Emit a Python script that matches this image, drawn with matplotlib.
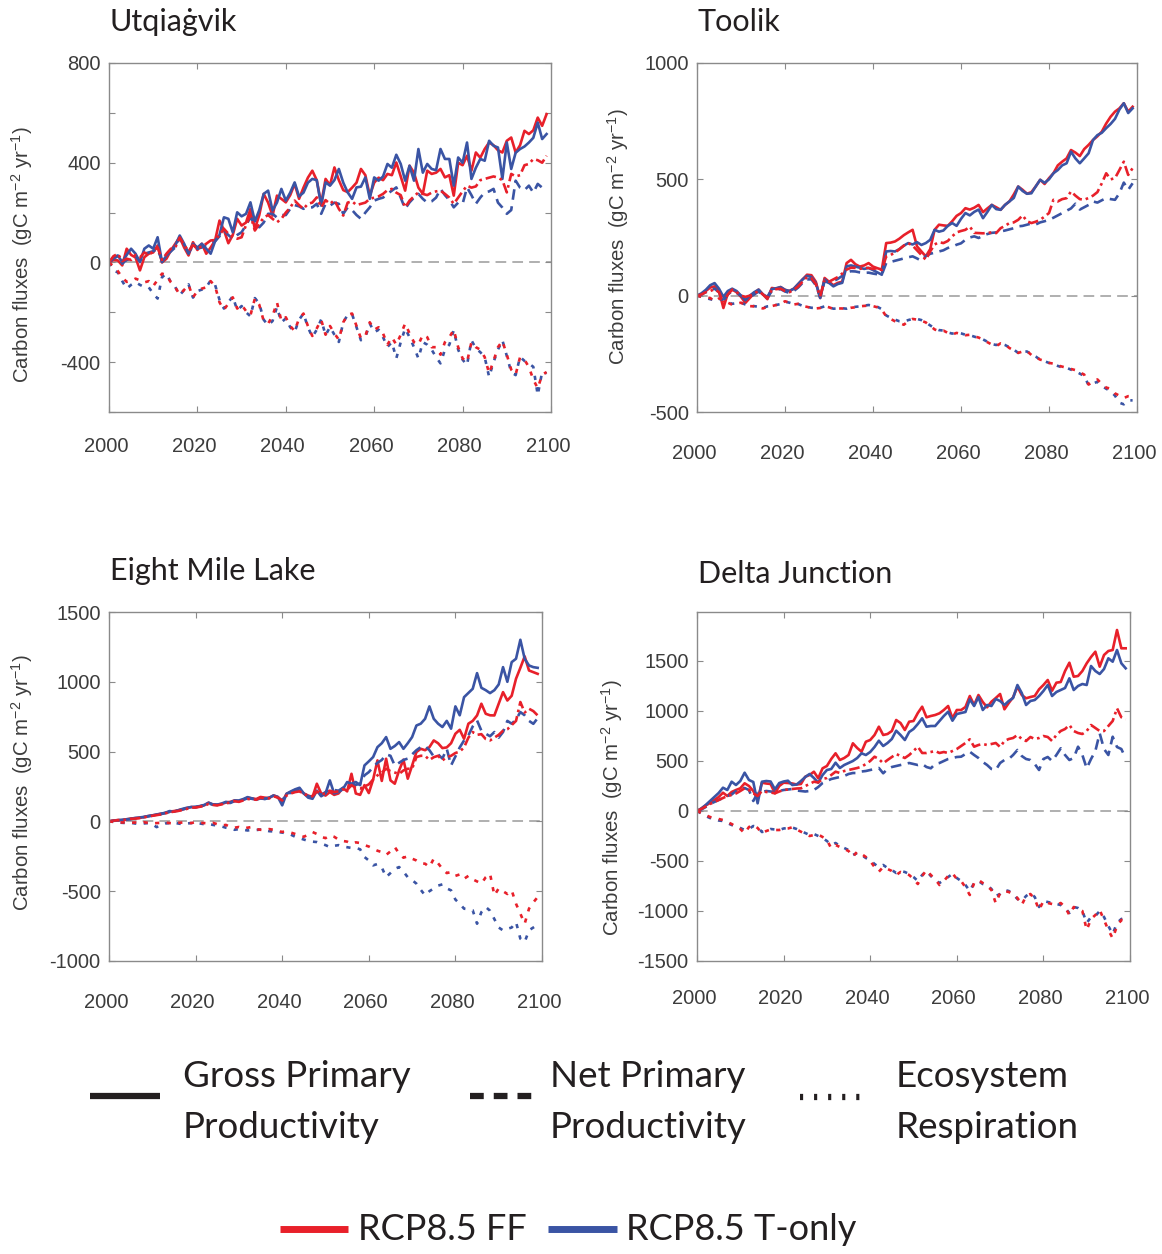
import numpy as np
import matplotlib
matplotlib.use("Agg")
import matplotlib.pyplot as plt
import matplotlib.transforms as mtransforms

plt.rcParams['font.family'] = ['Liberation Sans', 'DejaVu Sans']
plt.rcParams['mathtext.fontset'] = 'custom'
plt.rcParams['mathtext.rm'] = 'Liberation Sans'

years = np.arange(2000, 2100)

# ---- Utqiagvik ----
utq_gpp_ff = [0, 10, 8, -12, 55, 30, 20, -32, 21, 35,
              40, 68, 0, 15, 48, 75, 101, 60, 28, 81,
              50, 75, 35, 60, 88, 168, 130, 77, 110, 175,
              148, 160, 215, 135, 190, 275, 240, 188, 268, 255,
              241, 270, 315, 255, 300, 340, 368, 330, 235, 335,
              310, 381, 330, 290, 282, 300, 320, 375, 350, 268,
              320, 340, 330, 355, 350, 401, 345, 288, 388, 360,
              300, 275, 368, 355, 360, 375, 341, 350, 268, 400,
              390, 428, 368, 441, 420, 455, 481, 470, 450, 441,
              488, 501, 441, 470, 528, 515, 530, 581, 548, 595]
utq_gpp_t = [0, 21, 28, 1, 30, 55, 35, 1, 55, 68,
             55, 101, 1, 28, 45, 68, 108, 75, 35, 75,
             60, 75, 55, 35, 85, 110, 181, 175, 121, 201,
             185, 195, 241, 165, 210, 275, 288, 208, 240, 295,
             248, 280, 321, 265, 280, 320, 335, 330, 228, 321,
             308, 330, 375, 320, 281, 255, 301, 304, 341, 255,
             341, 328, 345, 395, 380, 432, 395, 328, 388, 328,
             455, 360, 395, 375, 370, 455, 415, 415, 308, 421,
             400, 481, 335, 380, 415, 408, 488, 468, 461, 335,
             481, 375, 440, 455, 465, 481, 500, 561, 495, 515]
utq_npp_ff = [0, 25, 35, 5, 15, 10, 30, 20, 40, 30,
              45, 61, 10, 35, 55, 60, 100, 70, 45, 70,
              55, 65, 75, 88, 90, 110, 135, 115, 100, 95,
              101, 150, 190, 128, 155, 180, 190, 175, 161, 175,
              200, 220, 248, 230, 215, 235, 240, 261, 221, 250,
              235, 250, 215, 188, 240, 245, 230, 235, 240, 255,
              260, 265, 275, 290, 295, 280, 270, 221, 248, 265,
              281, 275, 270, 280, 285, 288, 275, 260, 235, 260,
              285, 308, 300, 305, 330, 335, 340, 345, 340, 330,
              281, 355, 345, 350, 390, 395, 415, 410, 400, 428]
utq_npp_t = [0, 15, 25, -5, 10, 15, 25, 5, 35, 40,
             45, 55, 5, 30, 45, 60, 100, 65, 40, 65,
             55, 60, 70, 75, 85, 105, 128, 110, 95, 110,
             121, 150, 180, 155, 141, 160, 195, 195, 180, 190,
             190, 215, 230, 225, 215, 220, 221, 235, 195, 235,
             228, 240, 235, 195, 221, 210, 190, 175, 200, 221,
             248, 255, 260, 275, 288, 301, 260, 215, 241, 260,
             275, 255, 240, 245, 260, 295, 270, 250, 221, 240,
             235, 301, 270, 235, 260, 281, 285, 295, 240, 220,
             195, 210, 328, 300, 290, 308, 280, 315, 300, 295]
utq_er_ff = [0, -15, -35, -60, -78, -75, -65, -72, -80, -75,
             -95, -70, -45, -50, -80, -100, -130, -110, -90, -140,
             -115, -105, -100, -75, -95, -160, -190, -165, -140, -185,
             -170, -195, -212, -145, -170, -235, -245, -215, -160, -235,
             -220, -255, -275, -225, -205, -255, -295, -265, -230, -290,
             -255, -285, -310, -240, -210, -205, -255, -305, -295, -240,
             -270, -260, -285, -330, -300, -330, -290, -245, -285, -320,
             -330, -290, -300, -340, -340, -370, -320, -300, -270, -340,
             -385, -400, -320, -340, -350, -380, -445, -395, -340, -315,
             -370, -430, -450, -380, -390, -420, -470, -505, -450, -440]
utq_er_t = [0, -32, -40, -75, -105, -90, -79, -90, -99, -100,
            -125, -145, -59, -45, -80, -99, -132, -110, -88, -141,
            -115, -109, -100, -72, -90, -150, -185, -160, -136, -192,
            -175, -200, -216, -143, -165, -230, -252, -235, -179, -240,
            -225, -260, -279, -230, -205, -260, -299, -270, -229, -292,
            -259, -290, -319, -240, -210, -208, -260, -312, -300, -245,
            -280, -270, -300, -339, -320, -385, -320, -265, -300, -340,
            -385, -320, -330, -350, -380, -405, -350, -330, -272, -350,
            -390, -412, -312, -345, -360, -380, -459, -400, -350, -312,
            -375, -440, -452, -379, -395, -405, -419, -532, -439, -445]

# ---- Toolik ----
tlk_gpp_ff = [0, 5, 20, 35, 40, 20, -53, 10, 26, 15,
              -5, -31, -10, 10, 26, 5, -15, 33, 30, 37,
              25, 20, 30, 50, 70, 90, 88, 60, -10, 76,
              60, 45, 55, 60, 140, 154, 135, 125, 130, 140,
              125, 118, 112, 226, 228, 233, 245, 260, 272, 283,
              212, 190, 169, 200, 283, 305, 302, 300, 320, 343,
              355, 376, 370, 378, 390, 359, 375, 390, 380, 369,
              390, 405, 435, 469, 455, 438, 445, 470, 498, 480,
              505, 526, 560, 576, 590, 626, 615, 600, 630, 648,
              669, 685, 705, 740, 769, 791, 805, 827, 791, 812]
tlk_gpp_t = [0, 10, 25, 45, 54, 30, -5, 20, 30, 20,
             0, -20, 0, 15, 26, 5, -5, 28, 32, 37,
             25, 20, 30, 50, 70, 85, 80, 55, -10, 70,
             55, 40, 50, 55, 126, 130, 125, 120, 115, 119,
             110, 100, 90, 190, 192, 190, 200, 215, 226, 220,
             230, 218, 226, 240, 283, 275, 280, 300, 312, 300,
             330, 355, 345, 360, 370, 333, 360, 390, 372, 369,
             390, 405, 420, 469, 450, 438, 440, 470, 498, 485,
             500, 526, 540, 560, 569, 619, 590, 569, 590, 612,
             669, 690, 700, 720, 738, 760, 800, 827, 785, 805]
tlk_npp_ff = [0, 5, 15, 20, 28, 15, -31, 5, 26, 15,
              0, -5, 0, 10, 20, 5, -10, 25, 28, 30,
              20, 15, 25, 40, 60, 80, 75, 50, -3, 68,
              60, 70, 80, 95, 112, 120, 119, 115, 120, 119,
              115, 118, 110, 169, 175, 185, 200, 215, 226, 215,
              195, 175, 154, 190, 220, 230, 226, 235, 255, 272,
              278, 283, 297, 270, 269, 268, 270, 272, 269, 290,
              300, 312, 315, 326, 345, 320, 312, 318, 326, 340,
              355, 412, 405, 415, 419, 448, 430, 415, 412, 420,
              430, 445, 483, 526, 500, 505, 540, 576, 519, 548]
tlk_npp_t = [0, 5, 15, 25, 30, 15, -20, 5, 20, 12,
             0, -10, -5, 5, 18, 0, -10, 20, 25, 28,
             18, 12, 20, 35, 55, 70, 70, 45, -5, 62,
             55, 62, 72, 85, 100, 105, 104, 100, 98, 99,
             95, 92, 90, 140, 145, 150, 155, 160, 165, 169,
             160, 150, 170, 180, 185, 190, 195, 205, 210, 219,
             225, 240, 250, 255, 248, 258, 265, 270, 272, 276,
             280, 285, 290, 298, 300, 305, 310, 306, 315, 320,
             326, 335, 345, 355, 365, 375, 395, 370, 380, 390,
             405, 400, 410, 419, 415, 412, 440, 486, 455, 483]
tlk_er_ff = [0, -5, -8, -10, -25, -12, -17, -30, -39, -35,
             -30, -40, -45, -46, -50, -55, -48, -45, -40, -35,
             -24, -30, -38, -35, -45, -48, -53, -55, -53, -45,
             -50, -57, -55, -55, -57, -52, -50, -46, -44, -43,
             -45, -50, -60, -89, -100, -110, -117, -125, -110, -100,
             -103, -108, -115, -130, -145, -153, -150, -160, -167, -160,
             -165, -170, -168, -175, -180, -189, -200, -210, -217, -205,
             -210, -225, -235, -246, -240, -238, -255, -265, -275, -280,
             -289, -292, -300, -305, -310, -315, -320, -330, -339, -382,
             -370, -360, -380, -395, -400, -420, -430, -440, -432, -432]
tlk_er_t = [0, -5, -10, -15, -20, -15, -17, -28, -35, -32,
            -30, -38, -42, -45, -48, -52, -46, -44, -40, -36,
            -26, -30, -36, -36, -44, -48, -52, -53, -52, -46,
            -50, -56, -55, -54, -56, -50, -48, -46, -43, -40,
            -44, -48, -58, -85, -95, -103, -110, -112, -105, -100,
            -100, -105, -115, -128, -140, -148, -150, -158, -163, -158,
            -162, -168, -170, -176, -182, -188, -198, -208, -212, -205,
            -212, -222, -232, -246, -240, -240, -252, -262, -275, -282,
            -289, -295, -302, -308, -310, -318, -325, -335, -345, -385,
            -378, -370, -388, -400, -410, -430, -460, -467, -450, -450]

# ---- Eight Mile Lake ----
eml_gpp_ff = [0, 5, 10, 8, 15, 20, 22, 25, 30, 38,
              43, 48, 55, 60, 70, 74, 80, 85, 95, 103,
              100, 108, 115, 134, 120, 118, 125, 135, 140, 150,
              145, 155, 170, 165, 160, 175, 170, 168, 186, 175,
              140, 198, 210, 225, 220, 200, 185, 175, 270, 200,
              185, 210, 190, 200, 240, 215, 341, 200, 190, 260,
              203, 300, 437, 290, 449, 294, 270, 365, 442, 306,
              400, 497, 520, 510, 532, 580, 560, 525, 530, 560,
              628, 656, 592, 700, 720, 759, 843, 771, 760, 759,
              843, 926, 866, 900, 1022, 1100, 1182, 1081, 1069, 1057]
eml_gpp_t = [0, 5, 8, 12, 15, 18, 25, 28, 32, 38,
             43, 50, 55, 62, 74, 70, 80, 90, 98, 103,
             105, 110, 118, 134, 122, 120, 128, 140, 135, 150,
             150, 160, 174, 165, 155, 165, 160, 170, 186, 175,
             115, 198, 215, 230, 241, 200, 170, 162, 220, 180,
             200, 294, 200, 210, 230, 282, 270, 282, 260, 401,
             430, 461, 532, 560, 604, 520, 540, 568, 520, 560,
             604, 687, 700, 735, 824, 735, 700, 676, 720, 664,
             824, 760, 890, 920, 950, 1062, 957, 940, 919, 940,
             981, 1105, 1000, 1141, 1165, 1301, 1165, 1117, 1105, 1100]
eml_npp_ff = [0, 5, 8, 10, 12, 18, 20, 24, 28, 35,
              40, 45, 50, 58, 65, 70, 75, 82, 90, 98,
              100, 105, 112, 125, 118, 115, 122, 130, 135, 145,
              140, 150, 160, 160, 155, 170, 165, 165, 180, 170,
              150, 185, 200, 210, 215, 195, 185, 180, 215, 195,
              200, 220, 210, 215, 230, 225, 260, 240, 235, 250,
              265, 300, 330, 350, 377, 360, 350, 340, 365, 377,
              377, 461, 470, 470, 440, 460, 470, 437, 460, 470,
              490, 500, 530, 600, 640, 620, 625, 590, 580, 600,
              620, 650, 660, 690, 720, 855, 780, 807, 790, 759]
eml_npp_t = [0, 4, 8, 10, 14, 16, 22, 25, 30, 36,
             41, 47, 52, 60, 68, 70, 78, 86, 94, 100,
             102, 108, 115, 128, 120, 118, 125, 135, 132, 145,
             146, 155, 165, 162, 155, 165, 162, 168, 180, 172,
             150, 195, 205, 215, 225, 200, 180, 175, 200, 190,
             210, 230, 225, 220, 240, 250, 255, 262, 270, 330,
             353, 389, 420, 440, 480, 470, 400, 420, 440, 450,
             480, 510, 532, 540, 510, 465, 480, 450, 520, 401,
             465, 530, 580, 616, 680, 723, 650, 628, 610, 640,
             600, 640, 720, 700, 730, 783, 760, 720, 699, 740]
eml_er_ff = [0, -3, -5, -8, -5, -10, -8, -12, -6, -10,
             -15, -12, -10, -8, -12, -15, -10, -8, -10, -12,
             -5, -10, -12, -15, -10, -20, -30, -25, -40, -45,
             -40, -50, -45, -40, -55, -60, -64, -55, -60, -70,
             -75, -72, -80, -90, -100, -110, -95, -76, -90, -110,
             -120, -100, -110, -130, -140, -145, -160, -150, -155, -170,
             -180, -196, -210, -220, -240, -215, -184, -230, -260, -250,
             -267, -280, -300, -303, -327, -267, -300, -340, -370, -363,
             -390, -380, -411, -390, -415, -430, -446, -400, -375, -530,
             -480, -500, -520, -494, -590, -661, -733, -625, -580, -542]
eml_er_t = [0, -3, -8, -10, -12, -10, -15, -18, -15, -12,
            -20, -41, -25, -15, -12, -10, -15, -20, -15, -12,
            -10, -15, -20, -18, -25, -30, -36, -45, -50, -60,
            -55, -60, -65, -60, -62, -58, -64, -70, -72, -76,
            -80, -85, -95, -110, -120, -130, -140, -145, -148, -160,
            -170, -184, -175, -170, -180, -185, -190, -189, -200, -255,
            -280, -315, -305, -330, -399, -370, -340, -327, -360, -400,
            -420, -446, -490, -530, -500, -480, -460, -451, -480, -494,
            -560, -590, -625, -630, -637, -733, -650, -613, -640, -700,
            -760, -781, -770, -760, -721, -840, -864, -780, -760, -740]

# ---- Delta Junction ----
dj_gpp_ff = [0, 25, 55, 80, 110, 140, 183, 150, 190, 210,
             227, 277, 250, 200, 117, 283, 275, 270, 177, 250,
             283, 280, 275, 265, 270, 343, 360, 393, 327, 427,
             450, 520, 577, 510, 530, 560, 677, 630, 593, 693,
             710, 760, 843, 760, 770, 800, 910, 880, 810, 893,
             900, 980, 1043, 937, 950, 960, 977, 1010, 1050, 927,
             1010, 1010, 1040, 1150, 1060, 1160, 1090, 1037, 1093, 1130,
             1170, 1017, 1080, 1137, 1243, 1160, 1127, 1140, 1150, 1217,
             1260, 1310, 1203, 1283, 1290, 1400, 1483, 1343, 1350, 1400,
             1477, 1540, 1593, 1443, 1560, 1600, 1610, 1810, 1627, 1627]
dj_gpp_t = [0, 25, 60, 100, 140, 180, 233, 210, 293, 260,
            300, 383, 310, 290, 77, 293, 300, 295, 217, 280,
            295, 303, 260, 265, 300, 340, 370, 330, 283, 360,
            410, 420, 483, 430, 460, 480, 500, 530, 577, 560,
            590, 640, 703, 650, 680, 720, 803, 760, 710, 790,
            820, 870, 927, 843, 850, 850, 900, 950, 993, 903,
            970, 980, 990, 1117, 1050, 1140, 1010, 1060, 1050, 1120,
            1100, 1060, 1100, 1130, 1260, 1180, 1060, 1100, 1110, 1150,
            1200, 1260, 1150, 1190, 1210, 1230, 1327, 1210, 1250, 1270,
            1260, 1450, 1400, 1370, 1420, 1527, 1493, 1610, 1477, 1427]
dj_npp_ff = [0, 20, 45, 70, 90, 110, 130, 150, 160, 175,
             200, 227, 210, 177, 150, 200, 190, 185, 177, 195,
             210, 215, 220, 225, 227, 250, 270, 293, 285, 320,
             330, 360, 393, 380, 400, 410, 420, 430, 443, 470,
             500, 543, 520, 477, 510, 540, 570, 550, 530, 560,
             600, 643, 580, 580, 590, 600, 580, 590, 580, 600,
             620, 650, 680, 717, 643, 660, 670, 660, 670, 680,
             640, 700, 720, 730, 760, 720, 700, 740, 720, 730,
             750, 740, 700, 760, 800, 820, 860, 800, 780, 770,
             800, 860, 830, 800, 800, 850, 900, 1027, 937, 917]
dj_npp_t = [0, 15, 40, 70, 90, 110, 130, 150, 165, 200,
            220, 230, 210, 100, 180, 190, 200, 195, 190, 200,
            210, 215, 220, 205, 200, 195, 200, 210, 240, 280,
            300, 320, 330, 340, 350, 370, 380, 380, 395, 400,
            410, 420, 430, 377, 420, 440, 450, 460, 470, 480,
            470, 460, 470, 440, 427, 470, 480, 500, 520, 530,
            540, 543, 570, 593, 560, 530, 490, 460, 420, 410,
            480, 510, 520, 560, 610, 550, 520, 510, 470, 410,
            520, 540, 500, 560, 627, 560, 510, 530, 643, 560,
            427, 520, 600, 777, 620, 560, 743, 640, 620, 527]
dj_er_ff = [0, -20, -40, -60, -73, -80, -90, -110, -130, -157,
            -180, -223, -160, -140, -170, -223, -200, -185, -190, -190,
            -180, -175, -163, -185, -207, -230, -250, -240, -235, -260,
            -290, -373, -340, -360, -380, -400, -457, -407, -430, -460,
            -500, -560, -607, -560, -580, -600, -640, -610, -625, -640,
            -680, -730, -650, -590, -640, -680, -740, -700, -650, -623,
            -680, -700, -763, -840, -720, -690, -720, -750, -790, -923,
            -820, -800, -810, -830, -870, -940, -850, -830, -880, -990,
            -900, -920, -930, -940, -920, -960, -1040, -960, -980, -1000,
            -1190, -1080, -1040, -990, -1090, -1190, -1273, -1150, -1090, -1090]
dj_er_t = [0, -25, -50, -70, -80, -95, -100, -120, -140, -150,
           -170, -190, -180, -150, -160, -210, -200, -180, -185, -190,
           -175, -170, -165, -180, -200, -220, -240, -230, -250, -270,
           -300, -340, -320, -350, -370, -390, -440, -420, -440, -470,
           -490, -530, -560, -540, -570, -590, -620, -600, -610, -630,
           -660, -700, -640, -600, -650, -690, -720, -690, -660, -630,
           -670, -700, -740, -800, -720, -700, -730, -740, -780, -850,
           -830, -790, -800, -830, -880, -900, -850, -820, -860, -960,
           -900, -910, -920, -930, -940, -970, -1020, -960, -970, -1000,
           -1120, -1060, -1050, -1000, -1060, -1150, -1230, -1120, -1080, -1070]

site_names = ['Utqiaġvik', 'Toolik', 'Eight Mile Lake', 'Delta Junction']
legend_fluxes = ['Gross Primary\nProductivity', 'Net Primary\nProductivity',
                 'Ecosystem\nRespiration']
legend_runs = ['RCP8.5 FF', 'RCP8.5 T-only']

RED = '#e8202a'
BLUE = '#3a54a4'
TXT = '#3c3c3c'
W, H = 1162, 1254

fig = plt.figure(figsize=(W / 100, H / 100), dpi=100)


def px_axes(x0, y0, x1, y1):
    return fig.add_axes([x0 / W, 1 - y1 / H, (x1 - x0) / W, (y1 - y0) / H])


panels = [
    # box (px), ylim, yticks, labelled yticks, data, title pos, ylabel pos, xtick pad
    ((109, 63, 551, 412), (-600, 800), np.arange(-600, 801, 200), [-400, 0, 400, 800],
     (utq_gpp_ff, utq_gpp_t, utq_npp_ff, utq_npp_t, utq_er_ff, utq_er_t), (110, 22), (22, 255), 18),
    ((697, 63, 1137, 412), (-500, 1000), np.arange(-500, 1001, 500), [-500, 0, 500, 1000],
     (tlk_gpp_ff, tlk_gpp_t, tlk_npp_ff, tlk_npp_t, tlk_er_ff, tlk_er_t), (698, 22), (618, 237), 23),
    ((109, 612, 542, 961), (-1000, 1500), np.arange(-1000, 1501, 500), list(range(-1000, 1501, 500)),
     (eml_gpp_ff, eml_gpp_t, eml_npp_ff, eml_npp_t, eml_er_ff, eml_er_t), (110, 571), (22, 783), 23),
    ((697, 612, 1130, 961), (-1500, 1990), np.arange(-1500, 1501, 500), list(range(-1500, 1501, 500)),
     (dj_gpp_ff, dj_gpp_t, dj_npp_ff, dj_npp_t, dj_er_ff, dj_er_t), (698, 574), (612, 808), 20),
]

ylab = r'Carbon fluxes  (gC m$^{\mathregular{-2}}$ yr$^{\mathregular{-1}}$)'
shift_left = mtransforms.ScaledTranslation(-0.03, 0, fig.dpi_scale_trans)

for name, (box, ylim, yt, ylabeled, data, tpos, lpos, xpad) in zip(site_names, panels):
    ax = px_axes(*box)
    gpp_ff, gpp_t, npp_ff, npp_t, er_ff, er_t = data
    ax.axhline(0, color='#9a9a9a', lw=1.1, dashes=(7, 4), zorder=1)
    ax.plot(years, gpp_ff, color=RED, lw=1.9)
    ax.plot(years, gpp_t, color=BLUE, lw=1.9)
    ax.plot(years, npp_t, color=BLUE, lw=1.9, dashes=(4, 2.5))
    ax.plot(years, npp_ff, color=RED, lw=1.9, dashes=(4, 1.5, 1, 1.5))
    ax.plot(years, er_t, color=BLUE, lw=1.9, dashes=(1.6, 2.8))
    ax.plot(years, er_ff, color=RED, lw=1.9, dashes=(1.6, 2.8))
    ax.set_xlim(2000, 2100)
    ax.set_ylim(*ylim)
    ax.set_xticks(range(2000, 2101, 20))
    ax.set_yticks(yt)
    ax.set_yticklabels([str(v) if v in ylabeled else '' for v in yt])
    ax.tick_params(direction='in', length=4, width=0.8, color='#8a8a8a',
                   top=True, right=True, labelsize=14.5, labelcolor=TXT)
    ax.tick_params(axis='x', pad=xpad)
    ax.tick_params(axis='y', pad=6)
    for lab in ax.get_xticklabels():
        lab.set_transform(lab.get_transform() + shift_left)
    for s in ax.spines.values():
        s.set_color('#8a8a8a')
        s.set_linewidth(1.0)
    fig.text(tpos[0] / W, 1 - tpos[1] / H, name, fontsize=22, family='Lato',
             color='#231f20', ha='left', va='center')
    fig.text(lpos[0] / W, 1 - lpos[1] / H, ylab, fontsize=14.7, color=TXT,
             rotation=90, ha='center', va='center')

# legend drawn on an overlay in pixel units
lg = fig.add_axes([0, 0, 1, 1])
lg.set_xlim(0, W)
lg.set_ylim(H, 0)
lg.axis('off')

lg.plot([90, 160], [1096, 1096], color='#231f20', lw=4.5, solid_capstyle='butt')
lg.plot([470, 532], [1096, 1096], color='#231f20', lw=4.5, dashes=(2.2, 1.6))
lg.plot([800, 864], [1097, 1097], color='#231f20', lw=4.5, dashes=(0.5, 1.75))
for x, txt in zip([183, 550, 896], legend_fluxes):
    lg.text(x, 1102, txt, fontsize=26.5, family='Lato', color='#231f20',
            ha='left', va='center', linespacing=1.64)

lg.plot([280, 348], [1229, 1229], color=RED, lw=5, solid_capstyle='butt')
lg.plot([548, 617], [1229, 1229], color=BLUE, lw=5, solid_capstyle='butt')
for x, txt in zip([358, 626], legend_runs):
    lg.text(x, 1230, txt, fontsize=26, family='Lato', color='#231f20',
            ha='left', va='center')

fig.savefig('out.png', dpi=100)
